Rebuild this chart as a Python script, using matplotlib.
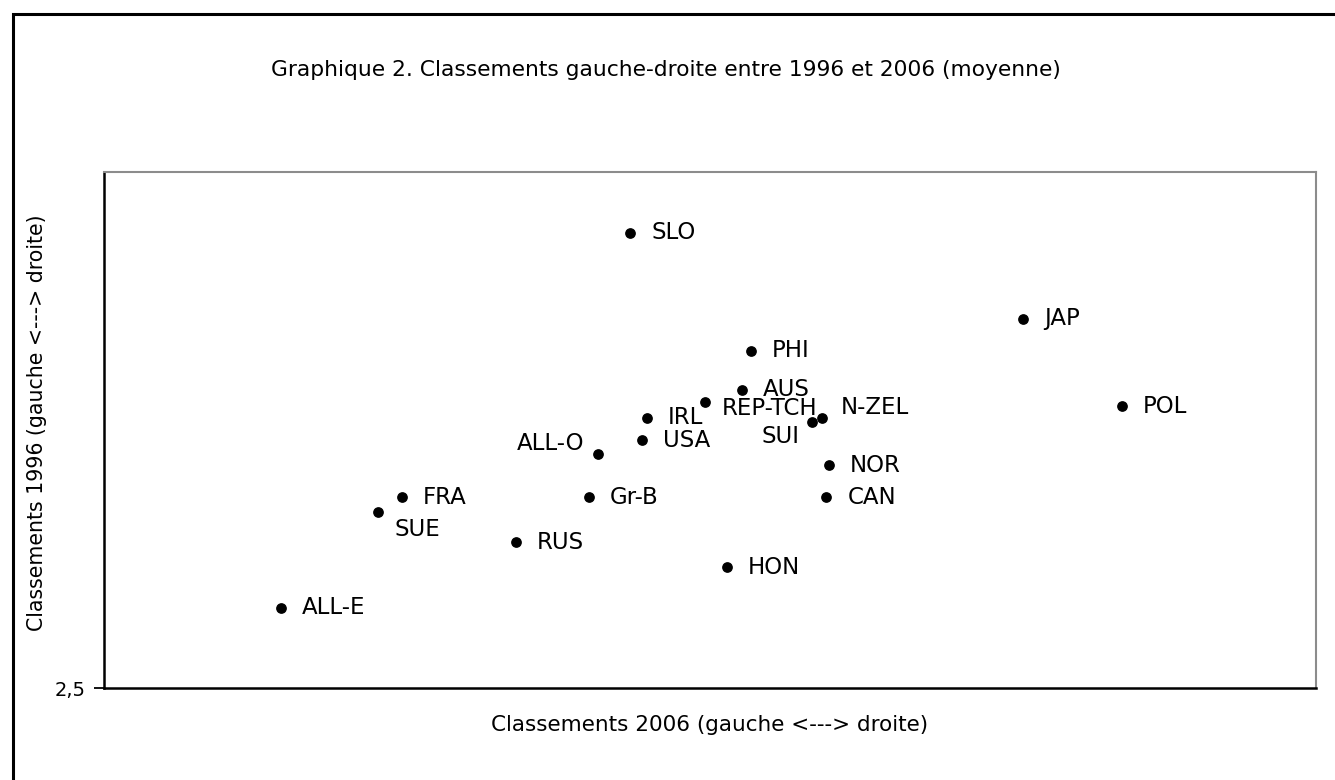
import matplotlib
matplotlib.use("Agg")
import matplotlib.pyplot as plt
from matplotlib.patches import Rectangle

plt.rcParams['font.family'] = ['DejaVu Sans']

# Data
countries = ["SLO", "JAP", "PHI", "AUS", "REP-TCH", "POL", "IRL", "N-ZEL", "SUI",
             "USA", "ALL-O", "NOR", "FRA", "Gr-B", "CAN", "SUE", "RUS", "HON", "ALL-E"]
x2006 = [4.67, 6.29, 5.17, 5.13, 4.98, 6.70, 4.74, 5.46, 5.42,
         4.72, 4.54, 5.49, 3.73, 4.50, 5.48, 3.63, 4.20, 5.07, 3.23]
y1996 = [6.91, 6.08, 5.77, 5.39, 5.27, 5.23, 5.12, 5.12, 5.08,
         4.90, 4.77, 4.66, 4.35, 4.35, 4.35, 4.21, 3.91, 3.67, 3.28]
ytick_vals = [2.5]
ytick_labels = ["2,5"]

title = "Graphique 2. Classements gauche-droite entre 1996 et 2006 (moyenne)"
xlabel = "Classements 2006 (gauche <---> droite)"
ylabel = "Classements 1996 (gauche <---> droite)"

# label placement (pixel offsets, alignment)
label_style = {
    "SUI": (-12, -15, "right"),
    "ALL-O": (-14, 10, "right"),
    "SUE": (17, -18, "left"),
    "REP-TCH": (17, -6, "left"),
    "N-ZEL": (19, 10, "left"),
}

fig = plt.figure(figsize=(13.35, 7.8), dpi=100)
fig.patch.set_facecolor("white")
fig.patches.append(Rectangle((12.5 / 1335, -0.1), 1.2, 0.1 + (780 - 13.5) / 780,
                             transform=fig.transFigure, fill=False,
                             edgecolor="black", linewidth=2.2, zorder=0))

ax = fig.add_axes([104 / 1335, (780 - 688) / 780, (1316 - 104) / 1335, (688 - 172) / 780])
ax.scatter(x2006, y1996, s=45, color="black", zorder=3)

for name, xv, yv in zip(countries, x2006, y1996):
    dx, dy, ha = label_style.get(name, (21, 0, "left"))
    ax.annotate(name, (xv, yv), xytext=(dx, dy), textcoords="offset pixels",
                ha=ha, va="center", fontsize=16.5, color="black")

ax.set_xlim(2.5, 7.5)
ax.set_ylim(2.5, 7.5)
ax.set_xticks([])
ax.set_yticks(ytick_vals)
ax.set_yticklabels(ytick_labels, fontsize=14)
ax.tick_params(axis="y", length=7, width=1.3, pad=6)

for side in ["top", "right"]:
    ax.spines[side].set_color("#8c8c8c")
    ax.spines[side].set_linewidth(1.5)
for side in ["left", "bottom"]:
    ax.spines[side].set_color("black")
    ax.spines[side].set_linewidth(1.8)

fig.text(666 / 1335, 1 - 70 / 780, title, ha="center", va="center", fontsize=15.7)
fig.text(710 / 1335, 1 - 725 / 780, xlabel, ha="center", va="center", fontsize=15.5)
fig.text(37 / 1335, 1 - 423 / 780, ylabel, ha="center", va="center", rotation=90, fontsize=14.8)

fig.savefig("out.png", dpi=100, facecolor="white")
